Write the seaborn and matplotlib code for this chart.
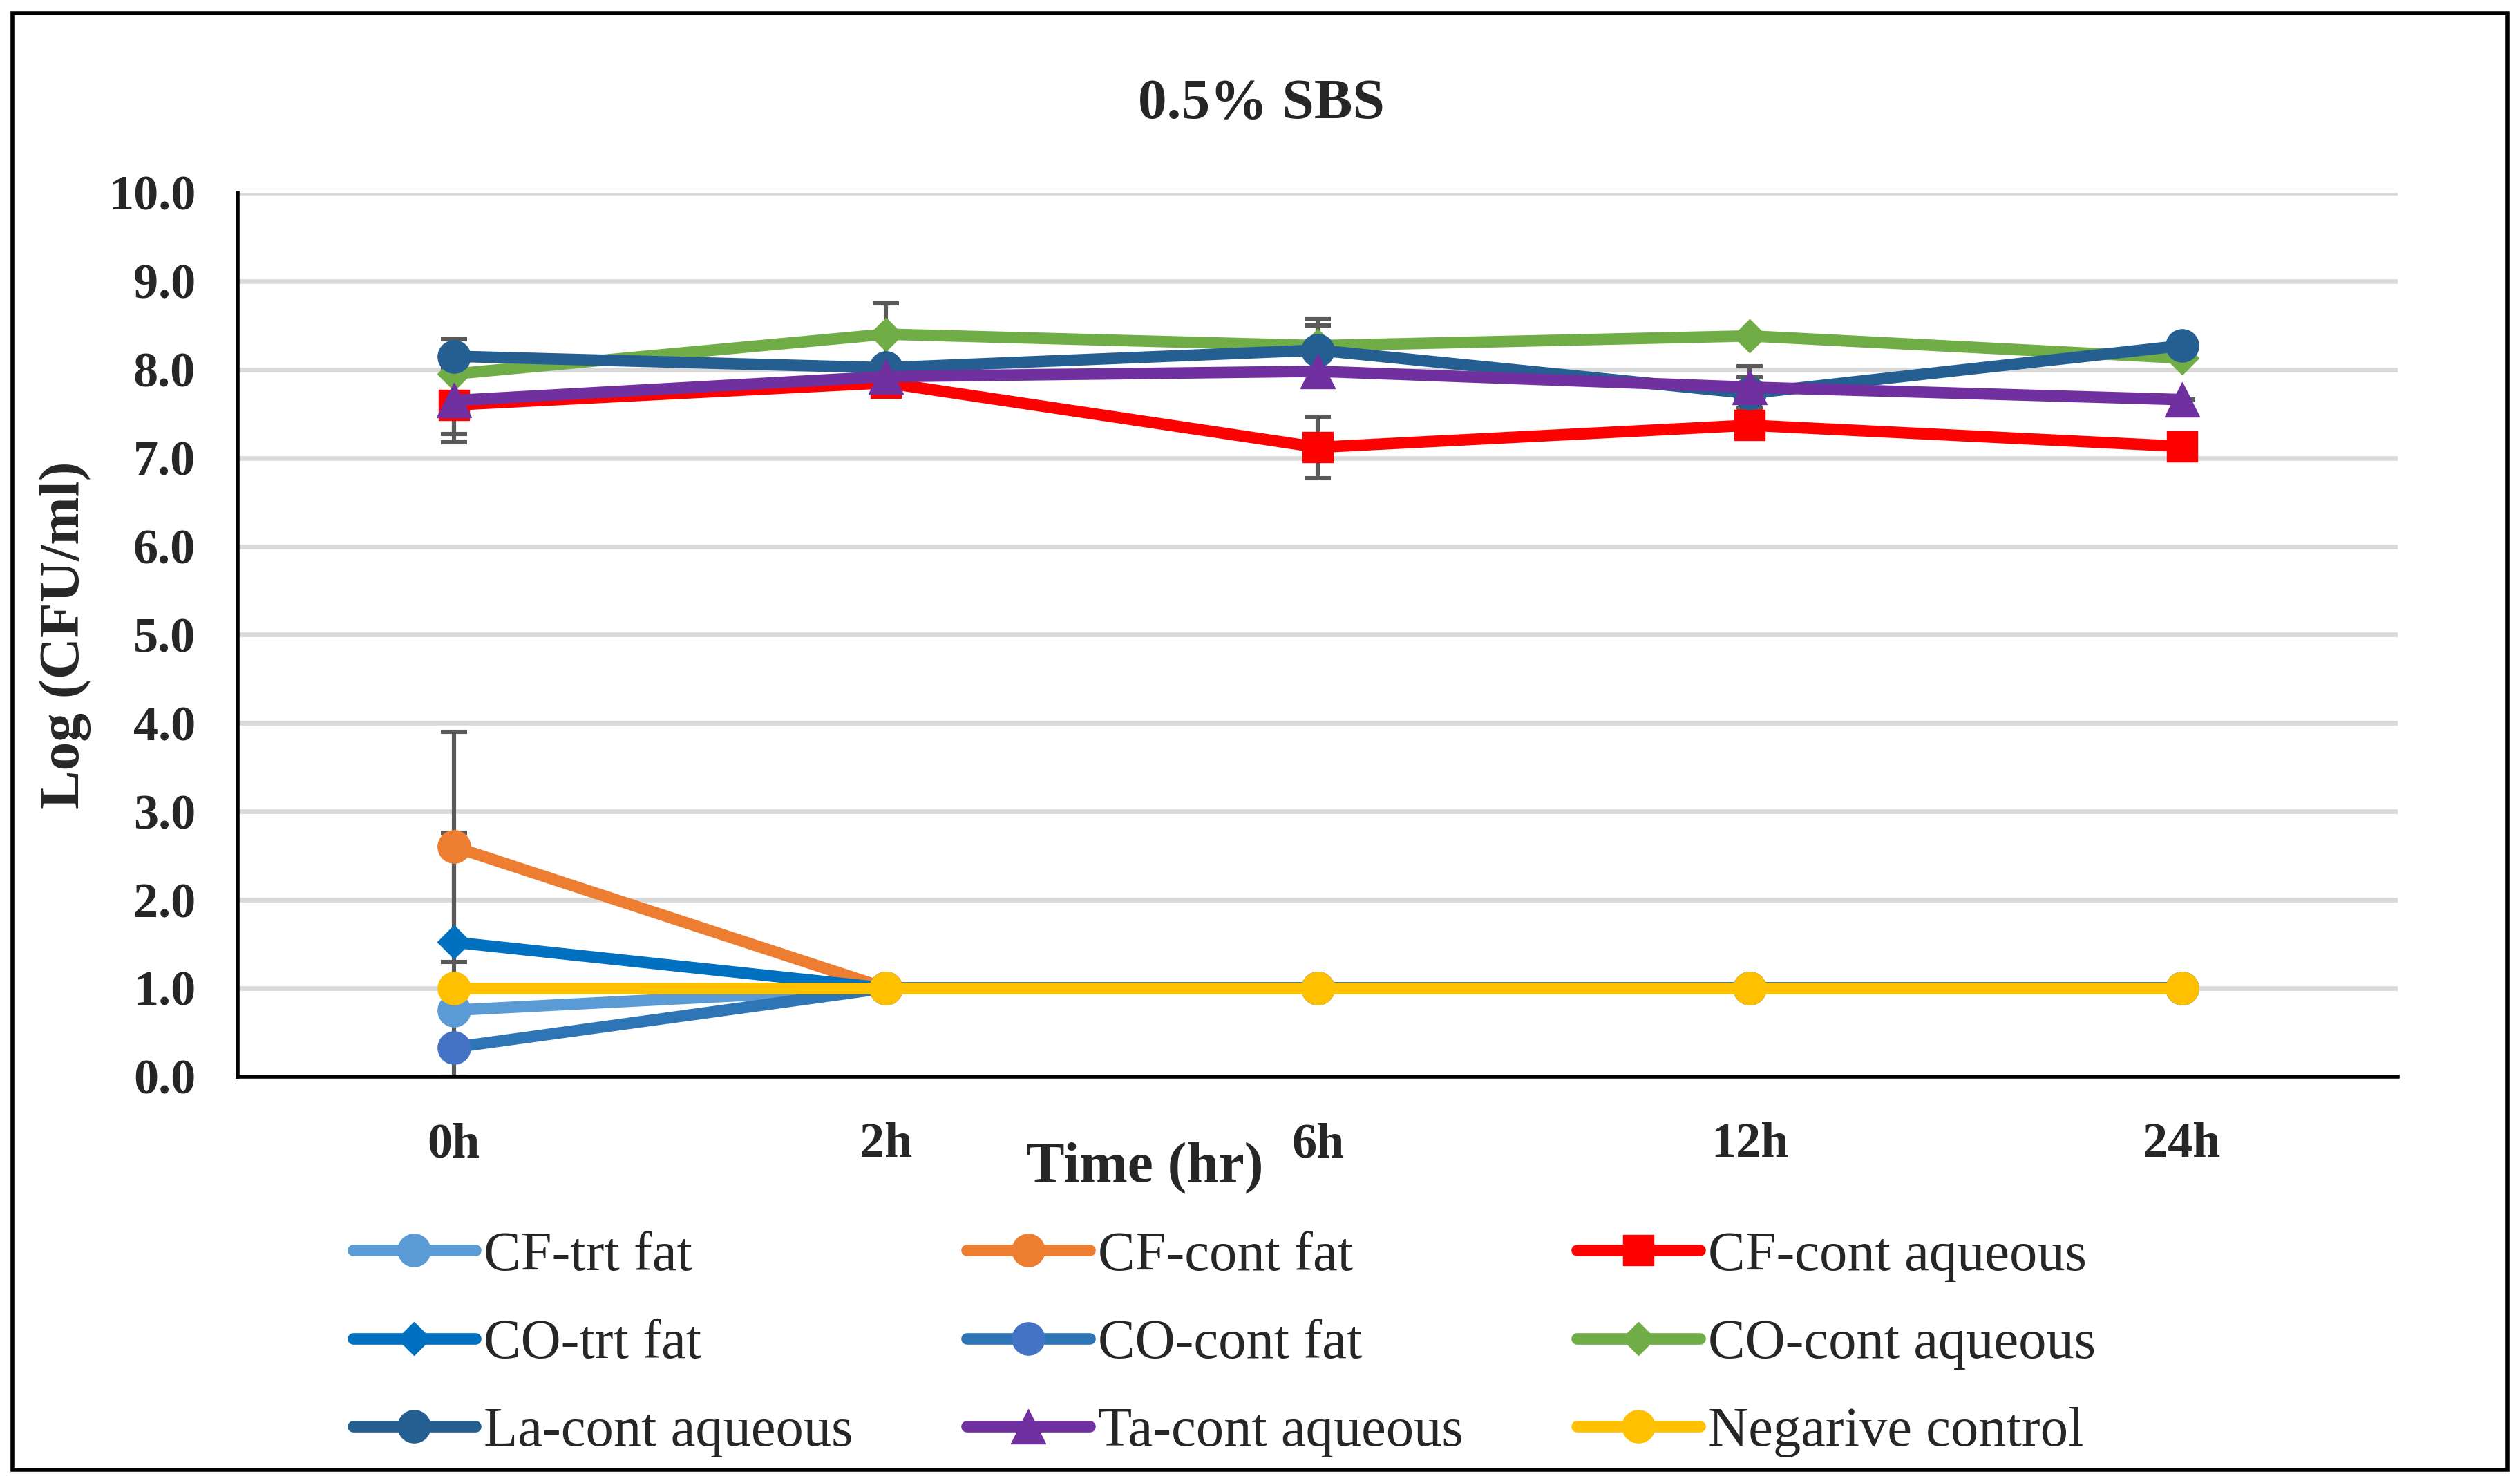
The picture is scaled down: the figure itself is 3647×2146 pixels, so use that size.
import pandas as pd
import matplotlib.pyplot as plt
import matplotlib.patches as patches
import seaborn as sns

# values (Log CFU/ml)
times = ["0h", "2h", "6h", "12h", "24h"]

cf_trt_fat = [0.75, 1.0, 1.0, 1.0, 1.0]
cf_cont_fat = [2.6, 1.0, 1.0, 1.0, 1.0]
cf_cont_aqueous = [7.6, 7.85, 7.12, 7.37, 7.13]
co_trt_fat = [1.52, 1.0, 1.0, 1.0, 1.0]
co_cont_fat = [0.33, 1.0, 1.0, 1.0, 1.0]
co_cont_aqueous = [7.95, 8.4, 8.27, 8.38, 8.13]
la_cont_aqueous = [8.15, 8.02, 8.22, 7.73, 8.27]
ta_cont_aqueous = [7.65, 7.92, 7.98, 7.8, 7.66]
negative_control = [1.0, 1.0, 1.0, 1.0, 1.0]

# error bars (standard deviation), estimated
cf_trt_fat_err = [0.0, 0, 0, 0, 0]
cf_cont_fat_err = [1.3, 0, 0, 0, 0]
cf_cont_aqueous_err = [0.42, 0, 0.35, 0, 0]
co_trt_fat_err = [1.24, 0, 0, 0, 0]
co_cont_fat_err = [0.33, 0, 0, 0, 0]
co_cont_aqueous_err = [0, 0.35, 0.31, 0, 0]
la_cont_aqueous_err = [0.19, 0, 0.28, 0.18, 0]
ta_cont_aqueous_err = [0.38, 0, 0, 0.24, 0]
negative_control_err = [0, 0, 0, 0, 0]

series = [
    ("CF-trt fat", cf_trt_fat, cf_trt_fat_err, "#5B9BD5", "#5B9BD5", "o", 17),
    ("CF-cont fat", cf_cont_fat, cf_cont_fat_err, "#ED7D31", "#ED7D31", "o", 17),
    ("CF-cont aqueous", cf_cont_aqueous, cf_cont_aqueous_err, "#FF0000", "#FF0000", "s", 16),
    ("CO-trt fat", co_trt_fat, co_trt_fat_err, "#0070C0", "#0070C0", "D", 12),
    ("CO-cont fat", co_cont_fat, co_cont_fat_err, "#2E75B6", "#4472C4", "o", 17),
    ("CO-cont aqueous", co_cont_aqueous, co_cont_aqueous_err, "#70AD47", "#70AD47", "D", 12),
    ("La-cont aqueous", la_cont_aqueous, la_cont_aqueous_err, "#255E91", "#255E91", "o", 17),
    ("Ta-cont aqueous", ta_cont_aqueous, ta_cont_aqueous_err, "#7030A0", "#7030A0", "^", 18),
    ("Negarive control", negative_control, negative_control_err, "#FFC000", "#FFC000", "o", 17),
]

sns.set_style("white")
plt.rcParams["font.family"] = ["Liberation Serif", "DejaVu Serif"]

fig = plt.figure(figsize=(18.235, 10.73), dpi=200)
ax = fig.add_axes([0.0944, 0.2741, 0.8571, 0.5959])

for name, vals, errs, lc, mc, mk, ms in series:
    df = pd.DataFrame({"time": times, "value": vals})
    ax.errorbar(times, vals, yerr=errs, fmt="none", ecolor="#595959",
                elinewidth=2.2, capsize=7, capthick=2.2, zorder=2)
    sns.lineplot(data=df, x="time", y="value", ax=ax, sort=False, errorbar=None,
                 color=lc, linewidth=6, marker=mk, markersize=ms,
                 markerfacecolor=mc, markeredgecolor=mc, markeredgewidth=0.5,
                 label=name, zorder=3)

h, l = ax.get_legend_handles_labels()
if ax.get_legend() is not None:
    ax.get_legend().remove()

ax.set_xlim(-0.5, 4.5)
ax.set_ylim(0, 10)
ax.set_yticks(range(0, 11))
ax.set_yticklabels([f"{v:.1f}" for v in range(0, 11)])
ax.grid(axis="y", color="#D9D9D9", linewidth=2.4, zorder=0)
ax.grid(axis="x", visible=False)
ax.set_axisbelow(True)
for side in ["top", "right"]:
    ax.spines[side].set_visible(False)
for side in ["left", "bottom"]:
    ax.spines[side].set_color("black")
    ax.spines[side].set_linewidth(2)
ax.tick_params(axis="both", length=0, labelsize=26)
ax.tick_params(axis="x", pad=24)
ax.tick_params(axis="y", pad=22)
for t in ax.get_xticklabels() + ax.get_yticklabels():
    t.set_fontweight("bold")

ax.set_xlabel("Time (hr)", fontsize=30, fontweight="bold", va="center")
ax.set_ylabel("Log (CFU/ml)", fontsize=30, fontweight="bold", va="center")
ax.xaxis.set_label_coords(0.42, -0.104)
ax.yaxis.set_label_coords(-0.080, 0.5)

fig.text(0.5006, 0.9296, "0.5% SBS", ha="center", va="center",
         fontsize=30, fontweight="bold")

# reorder so the column-wise legend reads row by row
order = [0, 3, 6, 1, 4, 7, 2, 5, 8]
fig.legend([h[i] for i in order], [l[i] for i in order], ncol=3,
           loc="upper left", bbox_to_anchor=(0.140, 0.170), frameon=False,
           fontsize=29, handlelength=2.2, handletextpad=0.15,
           columnspacing=2.05, labelspacing=0.67, borderpad=0, borderaxespad=0)

fig.add_artist(patches.Rectangle((0.005, 0.009), 0.99, 0.982, transform=fig.transFigure,
                                 fill=False, edgecolor="black", linewidth=2))

fig.savefig("out.png", dpi=200)
